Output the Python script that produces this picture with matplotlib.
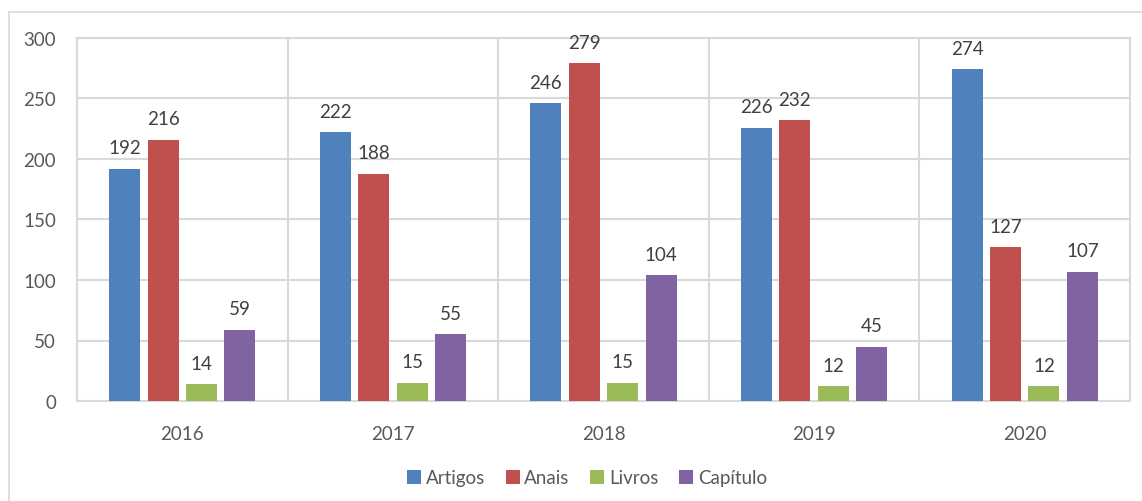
import matplotlib.pyplot as plt
import numpy as np
from matplotlib.lines import Line2D

anos = ['2016', '2017', '2018', '2019', '2020']
artigos = [192, 222, 246, 226, 274]
anais = [216, 188, 279, 232, 127]
livros = [14, 15, 15, 12, 12]
capitulo = [59, 55, 104, 45, 107]

series = ['Artigos', 'Anais', 'Livros', 'Capítulo']
cores = ['#4F81BD', '#C0504D', '#9BBB59', '#8064A2']

plt.rcParams['font.family'] = ['Lato', 'DejaVu Sans']
txt = '#595959'

fig = plt.figure(figsize=(11.42, 5.02), dpi=100)
ax = fig.add_axes([77/1142, 1 - 402/502, (1130-77)/1142, (402-39)/502])

# moldura do grafico (sai fora da imagem a direita e embaixo)
fig.add_artist(Line2D([9/1142, 9/1142], [0, 1 - 13/502], color='#D9D9D9', lw=1.2))
fig.add_artist(Line2D([9/1142, 1], [1 - 13/502, 1 - 13/502], color='#D9D9D9', lw=1.2))

x = np.arange(len(anos))
passo = 0.1825
largura = 0.147
dados = [artigos, anais, livros, capitulo]
for i, (nome, vals) in enumerate(zip(series, dados)):
    pos = x + (i - 1.5) * passo
    barras = ax.bar(pos, vals, largura, color=cores[i], label=nome, zorder=3)
    for b, v in zip(barras, vals):
        ax.annotate(str(v), (b.get_x() + b.get_width()/2, v), xytext=(0, 9),
                    textcoords='offset points', ha='center', va='bottom',
                    fontsize=13.5, color='#404040')

ax.set_xlim(-0.5, len(anos) - 0.5)
ax.set_ylim(0, 300)
ax.set_yticks(range(0, 301, 50))
ax.set_xticks(x)
ax.set_xticklabels(anos)
ax.set_xticks(np.arange(-0.5, len(anos), 1), minor=True)
ax.grid(axis='y', color='#D9D9D9', lw=1.5, zorder=0)
ax.grid(axis='x', which='minor', color='#D9D9D9', lw=1.5, zorder=0)
ax.tick_params(axis='both', which='both', length=0, labelsize=13.5, colors=txt)
ax.tick_params(axis='y', pad=15)
ax.tick_params(axis='x', pad=17)
for s in ax.spines.values():
    s.set_color('#D9D9D9')
    s.set_linewidth(1.5)

fig.legend(loc='center', bbox_to_anchor=(587/1142, 1 - 479/502), ncol=4,
           frameon=False, fontsize=13.5, handlelength=0.75, handleheight=0.75,
           handletextpad=0.25, columnspacing=1.1, labelcolor=txt)

fig.savefig('out.png', dpi=100)
